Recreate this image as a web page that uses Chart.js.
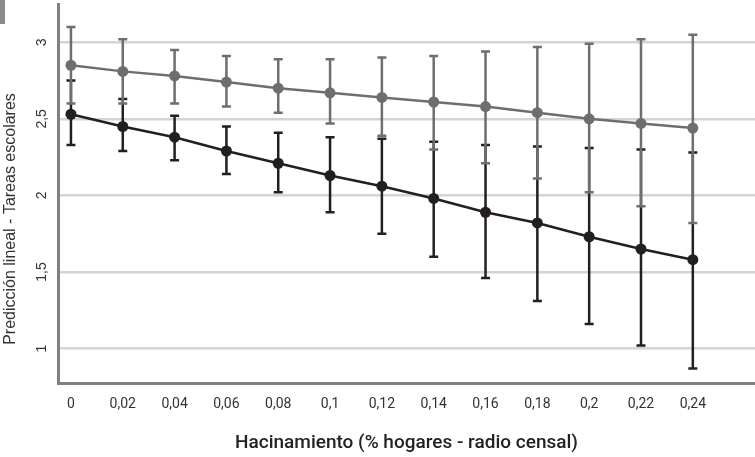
<!DOCTYPE html>
<html>
<head>
<meta charset="utf-8">
<script src="https://cdn.jsdelivr.net/npm/chart.js@4"></script>
<style>
  html, body { margin: 0; padding: 0; background: #fff; }
  #wrap { width: 755px; height: 457px; position: relative; }
</style>
</head>
<body>
<div id="wrap"><canvas id="predChart"></canvas></div>
<script>
// ===== Data =====
const hacinamiento = [0, 0.02, 0.04, 0.06, 0.08, 0.1, 0.12, 0.14, 0.16, 0.18, 0.2, 0.22, 0.24];

// upper (gray) series
const grayMean = [2.85, 2.81, 2.78, 2.74, 2.70, 2.67, 2.64, 2.61, 2.58, 2.54, 2.50, 2.47, 2.44];
const grayLow  = [2.60, 2.60, 2.60, 2.58, 2.54, 2.47, 2.39, 2.30, 2.21, 2.11, 2.02, 1.93, 1.82];
const grayHigh = [3.10, 3.02, 2.95, 2.91, 2.89, 2.89, 2.90, 2.91, 2.94, 2.97, 2.99, 3.02, 3.05];

// lower (black) series
const blackMean = [2.53, 2.45, 2.38, 2.29, 2.21, 2.13, 2.06, 1.98, 1.89, 1.82, 1.73, 1.65, 1.58];
const blackLow  = [2.33, 2.29, 2.23, 2.14, 2.02, 1.89, 1.75, 1.60, 1.46, 1.31, 1.16, 1.02, 0.87];
const blackHigh = [2.75, 2.63, 2.52, 2.45, 2.41, 2.38, 2.37, 2.35, 2.33, 2.32, 2.31, 2.30, 2.28];

const yTicks = [1, 1.5, 2, 2.5, 3];

const GRAY = "#6d6e71";
const BLACK = "#231f20";

const toPoints = arr => arr.map((v, i) => ({ x: hacinamiento[i], y: v }));

// ===== Error bars plugin =====
const errorBars = {
  id: "errorBars",
  beforeDatasetsDraw(chart) {
    const { ctx, scales: { x, y } } = chart;
    const sets = [
      { low: blackLow, high: blackHigh, color: BLACK },
      { low: grayLow, high: grayHigh, color: GRAY }
    ];
    ctx.save();
    ctx.lineWidth = 2.5;
    sets.forEach(s => {
      ctx.strokeStyle = s.color;
      hacinamiento.forEach((xv, i) => {
        const px = x.getPixelForValue(xv);
        const top = y.getPixelForValue(s.high[i]);
        const bot = y.getPixelForValue(s.low[i]);
        ctx.beginPath();
        ctx.moveTo(px, top);
        ctx.lineTo(px, bot);
        ctx.moveTo(px - 4.5, top);
        ctx.lineTo(px + 4.5, top);
        ctx.moveTo(px - 4.5, bot);
        ctx.lineTo(px + 4.5, bot);
        ctx.stroke();
      });
    });
    ctx.restore();
  }
};

// y title + little corner block
const extras = {
  id: "extras",
  afterDraw(chart) {
    const { ctx } = chart;
    ctx.save();
    ctx.fillStyle = "#8a8a8a";
    ctx.fillRect(0, 0, 5, 24);
    ctx.translate(11, 219);
    ctx.rotate(-Math.PI / 2);
    ctx.fillStyle = "#333";
    ctx.font = "16px 'Liberation Sans', Arial, sans-serif";
    ctx.textAlign = "center";
    ctx.textBaseline = "middle";
    ctx.fillText("Predicción lineal - Tareas escolares", 0, 0);
    ctx.restore();
  }
};

new Chart(document.getElementById("predChart"), {
  type: "line",
  data: {
    datasets: [
      {
        label: "Gris",
        data: toPoints(grayMean),
        borderColor: GRAY,
        backgroundColor: GRAY,
        borderWidth: 2.5,
        pointRadius: 5.5,
        pointBorderWidth: 0,
        tension: 0
      },
      {
        label: "Negro",
        data: toPoints(blackMean),
        borderColor: BLACK,
        backgroundColor: BLACK,
        borderWidth: 2.5,
        pointRadius: 5.5,
        pointBorderWidth: 0,
        tension: 0
      }
    ]
  },
  options: {
    responsive: true,
    maintainAspectRatio: false,
    animation: false,
    layout: { autoPadding: false, padding: { top: 4, right: 0, left: 0, bottom: 0 } },
    plugins: {
      legend: { display: false },
      tooltip: { enabled: false }
    },
    scales: {
      x: {
        type: "linear",
        min: -0.005,
        max: 0.264,
        afterBuildTicks: s => { s.ticks = hacinamiento.map(v => ({ value: v })); },
        afterFit: s => { s.height = 74; s.paddingLeft = 0; s.paddingRight = 0; },
        grid: { display: false, drawTicks: false },
        border: { display: true, color: "#808080", width: 3 },
        ticks: {
          padding: 13,
          color: "#333",
          font: { family: "Roboto", size: 14 },
          maxRotation: 0,
          callback: v => String(v).replace(".", ",")
        },
        title: {
          display: true,
          text: "Hacinamiento (% hogares - radio censal)",
          color: "#222",
          font: { family: "Roboto", size: 19, weight: "500" },
          padding: { top: 0, bottom: 2 }
        }
      },
      y: {
        min: 0.775,
        max: 3.25,
        afterBuildTicks: s => { s.ticks = yTicks.map(v => ({ value: v })); },
        afterFit: s => { s.width = 58; s.paddingTop = 0; s.paddingBottom = 0; },
        grid: { color: "#d4d4d4", lineWidth: 2.5, drawTicks: false },
        border: { display: true, color: "#808080", width: 3 },
        ticks: {
          minRotation: 90,
          maxRotation: 90,
          crossAlign: "center",
          padding: 6,
          color: "#333",
          font: { family: "'Liberation Sans', Arial, sans-serif", size: 14 },
          callback: v => String(v).replace(".", ",")
        }
      }
    }
  },
  plugins: [errorBars, extras]
});
</script>
</body>
</html>
